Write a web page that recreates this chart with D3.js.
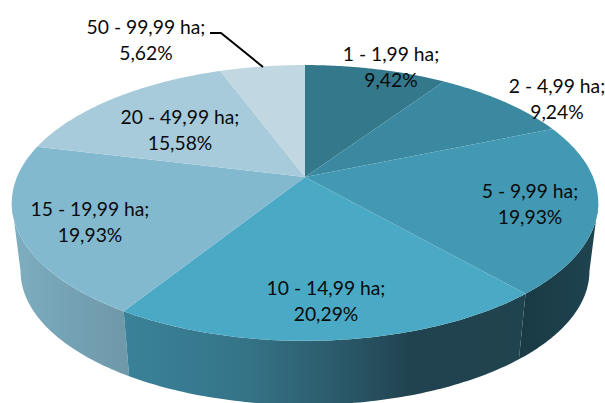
<!DOCTYPE html>
<html>
<head>
<meta charset="utf-8">
<script src="https://cdn.jsdelivr.net/npm/d3@7/dist/d3.min.js"></script>
<style>html,body{margin:0;padding:0;background:#fff;overflow:hidden}svg{display:block}</style>
</head>
<body>
<svg id="c" width="605" height="403"></svg>
<script>
const categories = ["1 - 1,99 ha;","2 - 4,99 ha;","5 - 9,99 ha;","10 - 14,99 ha;","15 - 19,99 ha;","20 - 49,99 ha;","50 - 99,99 ha;"];
const shares = [9.42,9.24,19.93,20.29,19.93,15.58,5.62];
const shareLabels = ["9,42%","9,24%","19,93%","20,29%","19,93%","15,58%","5,62%"];
const topColors = ["#34788c","#3a89a1","#4399b3","#4aa9c4","#83b9cf","#a7cbda","#c1d7e2"];
const labelCentres = [[391,61],[557,93],[530,198],[326,295],[90,216],[180,124],[146,34]];
const sideGradients = {
  2: [[0,"#1f4450"],[1,"#193a45"]],
  3: [[0,"#3a8299"],[0.3,"#357488"],[0.55,"#2a5868"],[0.72,"#21424f"],[1,"#20444f"]],
  4: [[0,"#7eaec0"],[0.5,"#74a2b4"],[1,"#6f98a8"]]
};

const svg = d3.select("#c");
const cx = 305, cy = 177, rx = 288, ry = 133, persp = 0.188;
const project = (a, k, dy) => {
  const X = Math.sin(a), Y = -Math.cos(a), s = 1 / (1 - persp * Y);
  return [cx + k * rx * X * s, cy + dy + k * ry * Y * s];
};
const arcs = d3.pie().sort(null).value(d => d)(shares);
const line = d3.line();
const rim = (a0, a1, k, dy) => d3.range(0, 81).map(i => project(a0 + (a1 - a0) * i / 80, k, dy));

// the wall is only seen between the two widest points of the rim
const rightExtreme = Math.acos(-persp);
const leftExtreme = 2 * Math.PI - rightExtreme;
const sideSpan = a => [Math.max(a.startAngle, rightExtreme), Math.min(a.endAngle, leftExtreme)];

const defs = svg.append("defs");
const sideK = 0.97, sideDy = 69;
Object.keys(sideGradients).forEach(i => {
  const [a0, a1] = sideSpan(arcs[i]);
  const pts = rim(a0, a1, 1, 0).concat(rim(a0, a1, sideK, sideDy));
  const [x0, x1] = d3.extent(pts, p => p[0]);
  const g = defs.append("linearGradient").attr("id", "side" + i)
    .attr("gradientUnits", "userSpaceOnUse")
    .attr("x1", +i === 2 ? x1 : x0).attr("x2", +i === 2 ? x0 : x1).attr("y1", 0).attr("y2", 0);
  sideGradients[i].forEach(s => g.append("stop").attr("offset", s[0]).attr("stop-color", s[1]));
});

[2, 4, 3].forEach(i => {
  const [a0, a1] = sideSpan(arcs[i]);
  const poly = rim(a0, a1, 1, 0).concat(rim(a1, a0, sideK, sideDy));
  svg.append("path").attr("d", line(poly) + "Z").attr("fill", `url(#side${i})`);
});

svg.selectAll("path.top").data(arcs).join("path").attr("class", "top")
  .attr("d", d => line([[cx, cy]].concat(rim(d.startAngle, d.endAngle, 1, 0))) + "Z")
  .attr("fill", (d, i) => topColors[i]);

svg.append("path").attr("d", line([[210, 33], [221, 33], [263, 67]]))
  .attr("fill", "none").attr("stroke", "#000").attr("stroke-width", 2);

const labels = svg.selectAll("text").data(categories).join("text")
  .attr("text-anchor", "middle")
  .attr("font-family", "Lato, 'Open Sans', sans-serif")
  .attr("font-size", 19.3).attr("fill", "#0a0a0a");
labels.append("tspan").attr("x", (d, i) => labelCentres[i][0]).attr("y", (d, i) => labelCentres[i][1]).text(d => d);
labels.append("tspan").attr("x", (d, i) => labelCentres[i][0]).attr("y", (d, i) => labelCentres[i][1] + 26).text((d, i) => shareLabels[i]);
</script>
</body>
</html>
